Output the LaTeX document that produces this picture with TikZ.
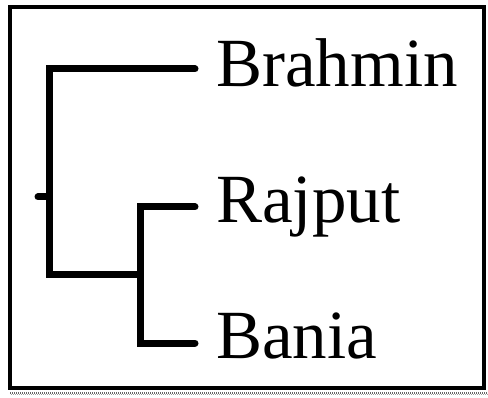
\documentclass[tikz,border=0pt]{standalone}
\usepackage{fontspec}
\setmainfont{Liberation Serif}
\begin{document}
\begin{tikzpicture}[x=1pt,y=1pt,
  branch/.style={line width=7pt,line cap=round,line join=miter},
  leaf/.style={anchor=base west,inner sep=0pt,font=\fontsize{69}{69}\selectfont}]
\useasboundingbox (0,0) rectangle (488,397);
\fill[white] (0,0) rectangle (488,397);
% frame
\draw[line width=3.5pt] (10,9) rectangle (484,390);
\draw[line width=1.5pt,black!60,dash pattern=on 1pt off 1pt] (10,4) -- (488,4);
\draw[line width=1.5pt,black!35,dash pattern=on 1pt off 1pt] (11,2.5) -- (488,2.5);
% coordinates
\coordinate (root) at (38,200);
\coordinate (n1) at (49,200);
\coordinate (n1top) at (49,328);
\coordinate (n1bot) at (49,122);
\coordinate (n2) at (140,122);
\coordinate (n2top) at (140,190);
\coordinate (n2bot) at (140,54);
\coordinate (eB) at (195,328);
\coordinate (eR) at (195,190);
\coordinate (eN) at (195,54);
% labels
\node[leaf] (brahmin) at (216,310) {Brahmin};
\node[leaf] (rajput) at (216,174) {Rajput};
\node[leaf] (bania) at (216,38) {Bania};
% tree
\draw[branch] (root) -- (n1);
\draw[branch] (eB) -- (n1top) -- (n1bot) -- (n2);
\draw[branch] (eR) -- (n2top) -- (n2bot) -- (eN);
\end{tikzpicture}
\end{document}
